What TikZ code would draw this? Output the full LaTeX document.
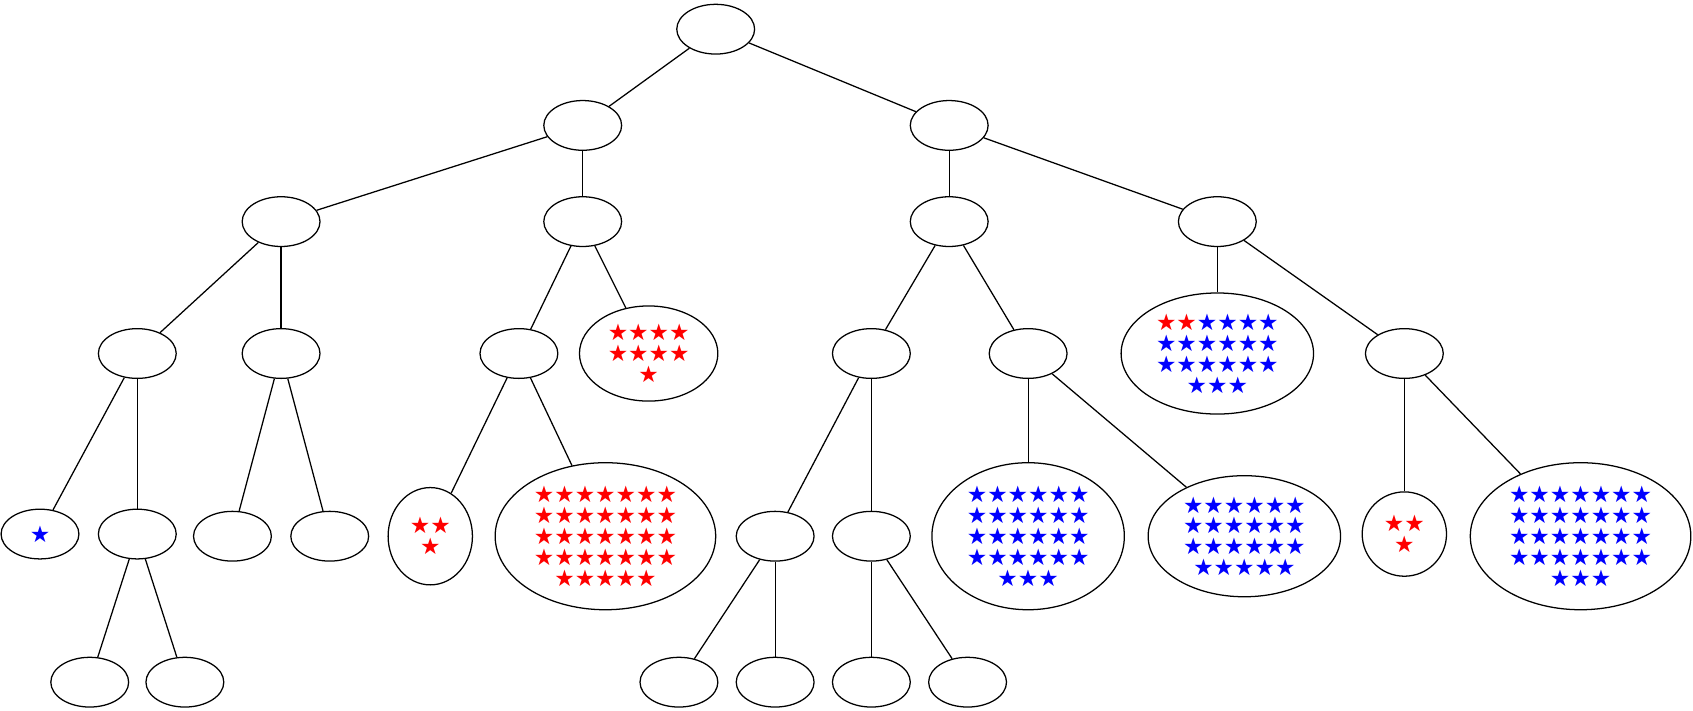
\documentclass[tikz,border=0pt]{standalone}
\usepackage{fontspec}
\newfontfamily\starfont{DejaVu Sans}
\usepackage{tikz}
\usetikzlibrary{shapes.geometric}
\newcommand\rS{\textcolor{red}{★}}
\newcommand\bS{\textcolor{blue}{★}}
\tikzset{
  tn/.style={draw,ellipse,line width=1pt,inner sep=0pt,align=center,
    font=\starfont\fontsize{18}{16.5}\selectfont,minimum width=2.16cm,minimum height=1.38cm},
  sz/.style 2 args={minimum width=#1cm,minimum height=#2cm},
  ed/.style={line width=1pt}
}
\begin{document}
\begin{tikzpicture}[x=0.03cm,y=-0.03cm]
\useasboundingbox (0,0) rectangle (1566,657);
% levels 0-2
\node[tn] (r)  at (662,27)  {};
\node[tn] (a)  at (539,116) {};
\node[tn] (b)  at (878,116) {};
\node[tn] (aa) at (260,205) {};
\node[tn] (ab) at (539,205) {};
\node[tn] (ba) at (878,205) {};
\node[tn] (bb) at (1126,205) {};
% level 3
\node[tn] (aaa) at (127,327) {};
\node[tn] (aab) at (260,327) {};
\node[tn] (aba) at (480,327) {};
\node[tn,sz={3.84}{2.64}] (abb) at (600,327) {\rS\rS\rS\rS\\\rS\rS\rS\rS\\\rS};
\node[tn] (baa) at (806,327) {};
\node[tn] (bab) at (951,327) {};
\node[tn,sz={5.34}{3.36}] (bba) at (1126,327)
  {\rS\rS\bS\bS\bS\bS\\\bS\bS\bS\bS\bS\bS\\\bS\bS\bS\bS\bS\bS\\\bS\bS\bS};
\node[tn] (bbb) at (1299,327) {};
% level 4
\node[tn] (aaaa) at (37,494) {\bS};
\node[tn] (aaab) at (127,494) {};
\node[tn] (aaba) at (215,496) {};
\node[tn] (aabb) at (305,496) {};
\node[tn,sz={2.34}{2.7}] (abaa) at (398,496) {\rS\rS\\\rS};
\node[tn,sz={6.12}{4.08}] (abab) at (560,496)
  {\rS\rS\rS\rS\rS\rS\rS\\\rS\rS\rS\rS\rS\rS\rS\\\rS\rS\rS\rS\rS\rS\rS\\\rS\rS\rS\rS\rS\rS\rS\\\rS\rS\rS\rS\rS};
\node[tn] (baaa) at (717,496) {};
\node[tn] (baab) at (806,496) {};
\node[tn,sz={5.34}{4.08}] (baba) at (951,496)
  {\bS\bS\bS\bS\bS\bS\\\bS\bS\bS\bS\bS\bS\\\bS\bS\bS\bS\bS\bS\\\bS\bS\bS\bS\bS\bS\\\bS\bS\bS};
\node[tn,sz={5.34}{3.36}] (babb) at (1151,496)
  {\bS\bS\bS\bS\bS\bS\\\bS\bS\bS\bS\bS\bS\\\bS\bS\bS\bS\bS\bS\\\bS\bS\bS\bS\bS};
\node[tn,sz={2.34}{2.34}] (bbba) at (1299,494) {\rS\rS\\\rS};
\node[tn,sz={6.12}{4.08}] (bbbb) at (1462,496)
  {\bS\bS\bS\bS\bS\bS\bS\\\bS\bS\bS\bS\bS\bS\bS\\\bS\bS\bS\bS\bS\bS\bS\\\bS\bS\bS\bS\bS\bS\bS\\\bS\bS\bS};
% level 5
\node[tn] (aaaba) at (83,631) {};
\node[tn] (aaabb) at (171,631) {};
\node[tn] (baaaa) at (628,631) {};
\node[tn] (baaab) at (717,631) {};
\node[tn] (baaba) at (806,631) {};
\node[tn] (baabb) at (895,631) {};

\foreach \p/\c in {r/a,r/b,a/aa,a/ab,b/ba,b/bb,aa/aaa,aa/aab,ab/aba,ab/abb,
  ba/baa,ba/bab,bb/bba,bb/bbb,aaa/aaaa,aaa/aaab,aab/aaba,aab/aabb,aba/abaa,aba/abab,
  baa/baaa,baa/baab,bab/baba,bab/babb,bbb/bbba,bbb/bbbb,aaab/aaaba,aaab/aaabb,
  baaa/baaaa,baaa/baaab,baab/baaba,baab/baabb}
  \draw[ed] (\p) -- (\c);
\end{tikzpicture}
\end{document}
